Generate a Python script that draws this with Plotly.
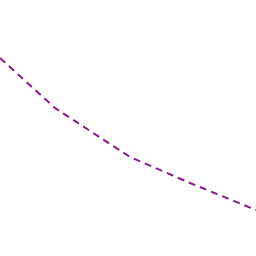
import plotly.graph_objects as go

x_vals = [0, 55, 130, 190, 256]
y_vals = [198, 148, 99, 73, 46]

fig = go.Figure(go.Scatter(x=x_vals, y=y_vals, mode="lines",
                           line=dict(color="#8a1a84", width=2, dash="7px,5px")))
fig.update_layout(width=256, height=256, margin=dict(l=0, r=0, t=0, b=0),
                  paper_bgcolor="white", plot_bgcolor="white", showlegend=False)
fig.update_xaxes(range=[0, 256], visible=False)
fig.update_yaxes(range=[0, 256], visible=False)
fig.write_html("out.html")
